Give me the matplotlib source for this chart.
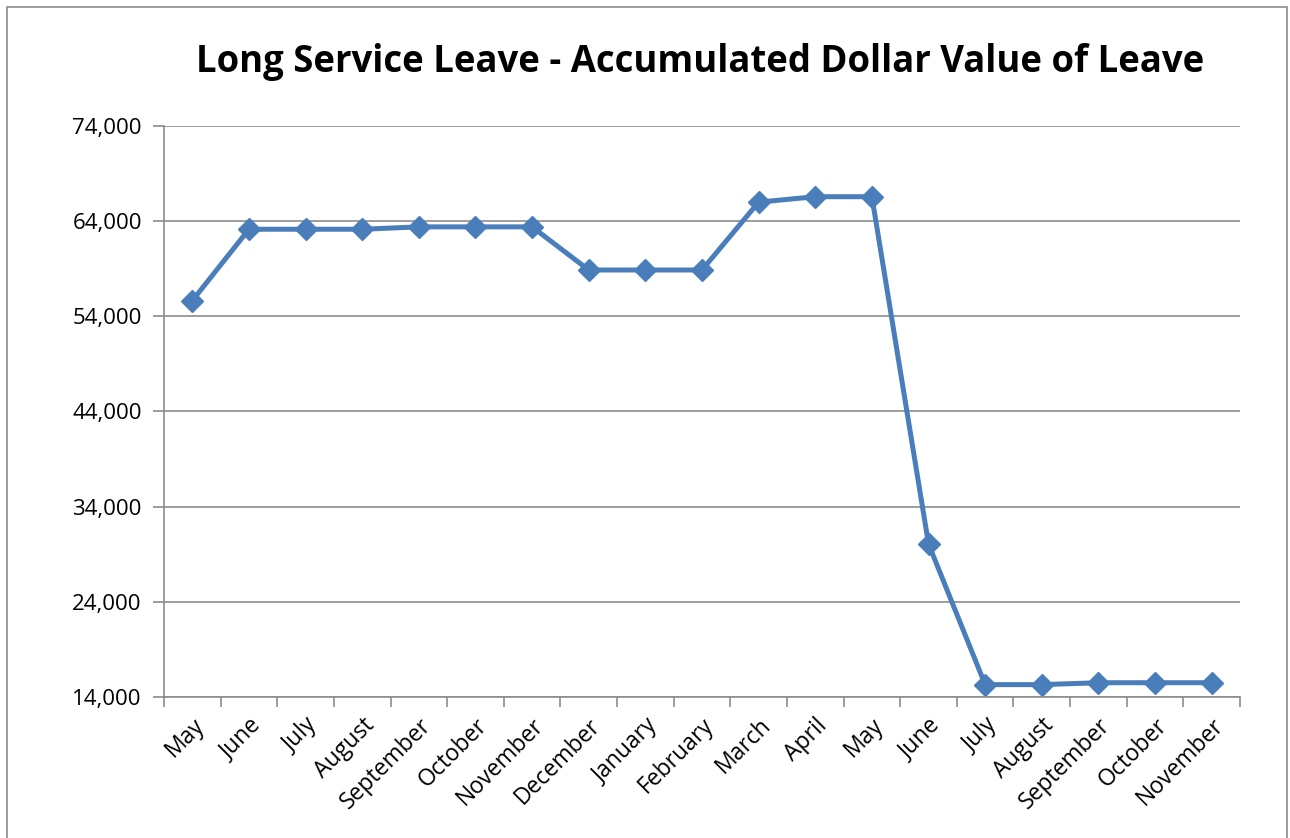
import matplotlib
import matplotlib.pyplot as plt
from matplotlib.patches import Rectangle

matplotlib.use('Agg')

# data
months = ['May', 'June', 'July', 'August', 'September', 'October', 'November',
          'December', 'January', 'February', 'March', 'April', 'May', 'June',
          'July', 'August', 'September', 'October', 'November']
leave_value = [55650, 63150, 63150, 63150, 63400, 63400, 63400,
               58870, 58870, 58870, 66000, 66570, 66570, 30080,
               15300, 15300, 15500, 15500, 15500]
y_ticks = [14000, 24000, 34000, 44000, 54000, 64000, 74000]

plt.rcParams['font.family'] = ['Open Sans', 'DejaVu Sans']

fig = plt.figure(figsize=(12.9, 8.38), dpi=100)
ax = fig.add_axes([164 / 1290, 1 - 697 / 838, (1240 - 164) / 1290, (697 - 126) / 838])

x = list(range(len(months)))
ax.plot(x, leave_value, color='#4A7EBB', linewidth=3.6, marker='D',
        markersize=11, markeredgecolor='#4A7EBB', markerfacecolor='#4A7EBB')

ax.set_xlim(-0.5, len(months) - 0.5)
ax.set_ylim(14000, 74000)
ax.set_yticks(y_ticks)
ax.set_yticklabels(['{:,}'.format(v) for v in y_ticks], fontsize=16)
ax.yaxis.grid(True, color='#8C8C8C', linewidth=1.2)
ax.set_axisbelow(True)

# category ticks sit between points, labels at the points
ax.set_xticks([i - 0.5 for i in range(len(months) + 1)])
ax.set_xticklabels([])
ax.set_xticks(x, minor=True)
ax.set_xticklabels(months, minor=True, rotation=45, ha='right',
                   rotation_mode='anchor', fontsize=16.5)
ax.tick_params(axis='x', which='minor', length=0, pad=12)
ax.tick_params(axis='x', which='major', length=7, color='#8C8C8C', width=1.2)
ax.tick_params(axis='y', length=8, color='#8C8C8C', width=1.2, pad=8)

for side in ['top', 'right']:
    ax.spines[side].set_visible(False)
for side in ['left', 'bottom']:
    ax.spines[side].set_color('#8C8C8C')
    ax.spines[side].set_linewidth(1.2)

fig.text(0.543, 1 - 62 / 838, 'Long Service Leave - Accumulated Dollar Value of Leave',
         ha='center', va='center', fontsize=26.3, fontweight='bold')

# outer chart border
fig.patches.append(Rectangle((7 / 1290, -0.01), 1280 / 1290, 1 - 7 / 838 + 0.01,
                             transform=fig.transFigure, fill=False,
                             edgecolor='#8C8C8C', linewidth=1.2))

fig.savefig('out.png', dpi=100)
